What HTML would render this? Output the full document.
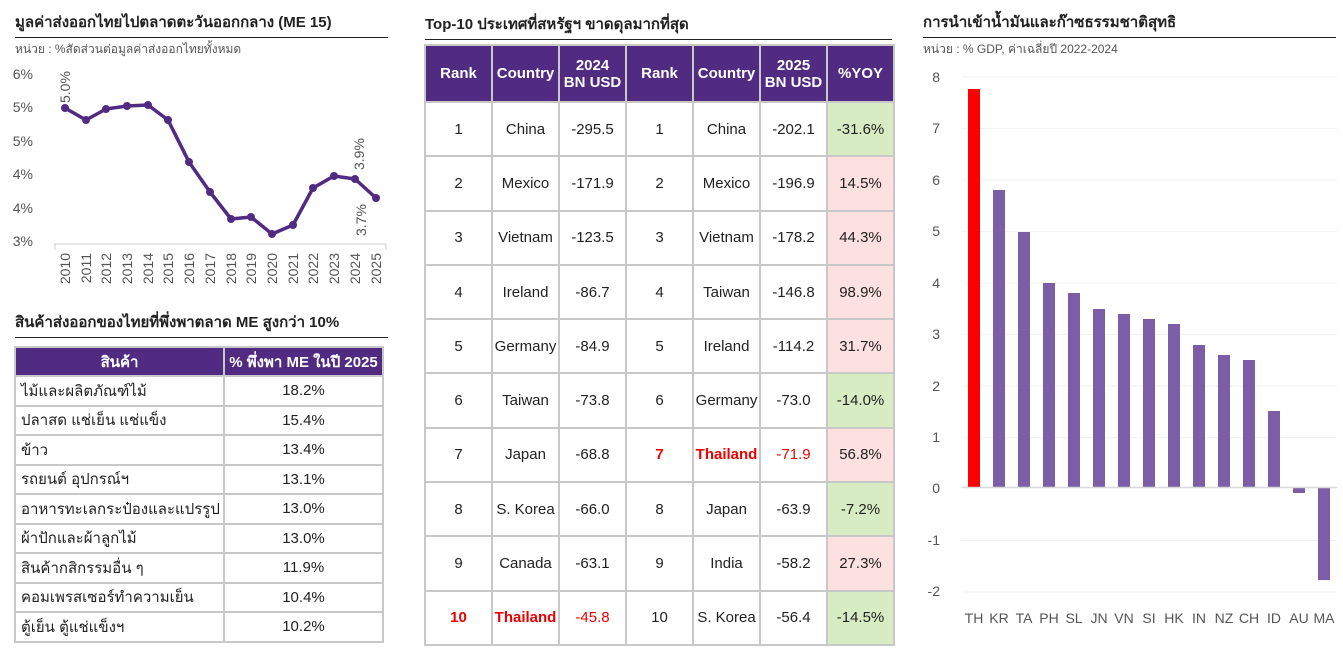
<!DOCTYPE html>
<html><head><meta charset="utf-8"><style>
body{margin:0;width:1343px;height:656px;background:#fff;position:relative;overflow:hidden;font-family:"Liberation Sans","Noto Sans CJK SC",sans-serif;color:#222}
.abs{position:absolute}
.ttl{font-size:15px;font-weight:bold;color:#222;border-bottom:1.5px solid #222;padding-bottom:3px}
.sub{font-size:12px;color:#555}
table{border-collapse:collapse;position:absolute;font-size:15px;table-layout:fixed}
td,th{border:2px solid #c8c8c8;text-align:center;padding:0;overflow:hidden;white-space:nowrap}
th{background:#512a82;color:#fff;font-weight:bold}
.g{background:#d8ecc4}.p{background:#fde0e0}.r{color:#e00;font-weight:bold}.rr{color:#e00}
</style></head><body>
<div class="abs ttl" style="left:15px;top:10px;width:373px">มูลค่าส่งออกไทยไปตลาดตะวันออกกลาง (ME 15)</div>
<div class="abs sub" style="left:15px;top:40px">หน่วย : %สัดส่วนต่อมูลค่าส่งออกไทยทั้งหมด</div>
<svg class="abs" style="left:0;top:60px" width="400" height="240">
<g font-size="14" fill="#555" text-anchor="end" font-family="Liberation Sans,sans-serif">
<text x="33" y="19">6%</text><text x="33" y="52">5%</text><text x="33" y="86">5%</text><text x="33" y="119">4%</text><text x="33" y="153">4%</text><text x="33" y="186">3%</text></g>
<line x1="54" y1="184" x2="386" y2="184" stroke="#ccc"/>
<g stroke="#ccc"><line x1="55" y1="184" x2="55" y2="190"/><line x1="386" y1="184" x2="386" y2="190"/></g>
<polyline fill="none" stroke="#512a82" stroke-width="3.5" stroke-linejoin="round" points="65,48 86,60 106,49 127,46 148,45 168,60 189,102 210,132 231,159 251,157 272,174 293,165 313,128 334,116 355,119 376,138"/>
<g fill="#512a82"><circle cx="65" cy="48" r="4"/><circle cx="86" cy="60" r="4"/><circle cx="106" cy="49" r="4"/><circle cx="127" cy="46" r="4"/><circle cx="148" cy="45" r="4"/><circle cx="168" cy="60" r="4"/><circle cx="189" cy="102" r="4"/><circle cx="210" cy="132" r="4"/><circle cx="231" cy="159" r="4"/><circle cx="251" cy="157" r="4"/><circle cx="272" cy="174" r="4"/><circle cx="293" cy="165" r="4"/><circle cx="313" cy="128" r="4"/><circle cx="334" cy="116" r="4"/><circle cx="355" cy="119" r="4"/><circle cx="376" cy="138" r="4"/></g>
<g font-size="14" fill="#555" font-family="Liberation Sans,sans-serif">
<text transform="translate(70,43) rotate(-90)">5.0%</text>
<text transform="translate(364,110) rotate(-90)">3.9%</text>
<text transform="translate(366,176) rotate(-90)">3.7%</text>
<g text-anchor="end">
<text transform="translate(70,193) rotate(-90)">2010</text><text transform="translate(91,193) rotate(-90)">2011</text><text transform="translate(111,193) rotate(-90)">2012</text><text transform="translate(132,193) rotate(-90)">2013</text><text transform="translate(153,193) rotate(-90)">2014</text><text transform="translate(173,193) rotate(-90)">2015</text><text transform="translate(194,193) rotate(-90)">2016</text><text transform="translate(215,193) rotate(-90)">2017</text><text transform="translate(236,193) rotate(-90)">2018</text><text transform="translate(256,193) rotate(-90)">2019</text><text transform="translate(277,193) rotate(-90)">2020</text><text transform="translate(298,193) rotate(-90)">2021</text><text transform="translate(318,193) rotate(-90)">2022</text><text transform="translate(339,193) rotate(-90)">2023</text><text transform="translate(360,193) rotate(-90)">2024</text><text transform="translate(381,193) rotate(-90)">2025</text></g></g>
</svg>
<div class="abs ttl" style="left:15px;top:310px;width:373px">สินค้าส่งออกของไทยที่พึ่งพาตลาด ME สูงกว่า 10%</div>
<table style="left:14px;top:346px;width:370px">
<tr style="height:29px"><th style="width:207px">สินค้า</th><th>% พึ่งพา ME ในปี 2025</th></tr>
<tr style="height:29.5px"><td style="text-align:left;padding-left:5px">ไม้และผลิตภัณฑ์ไม้</td><td>18.2%</td></tr>
<tr style="height:29.5px"><td style="text-align:left;padding-left:5px">ปลาสด แช่เย็น แช่แข็ง</td><td>15.4%</td></tr>
<tr style="height:29.5px"><td style="text-align:left;padding-left:5px">ข้าว</td><td>13.4%</td></tr>
<tr style="height:29.5px"><td style="text-align:left;padding-left:5px">รถยนต์ อุปกรณ์ฯ</td><td>13.1%</td></tr>
<tr style="height:29.5px"><td style="text-align:left;padding-left:5px">อาหารทะเลกระป๋องและแปรรูป</td><td>13.0%</td></tr>
<tr style="height:29.5px"><td style="text-align:left;padding-left:5px">ผ้าปักและผ้าลูกไม้</td><td>13.0%</td></tr>
<tr style="height:29.5px"><td style="text-align:left;padding-left:5px">สินค้ากสิกรรมอื่น ๆ</td><td>11.9%</td></tr>
<tr style="height:29.5px"><td style="text-align:left;padding-left:5px">คอมเพรสเซอร์ทำความเย็น</td><td>10.4%</td></tr>
<tr style="height:29.5px"><td style="text-align:left;padding-left:5px">ตู้เย็น ตู้แช่แข็งฯ</td><td>10.2%</td></tr>
</table>
<div class="abs ttl" style="left:425px;top:12px;width:467px">Top-10 ประเทศที่สหรัฐฯ ขาดดุลมากที่สุด</div>
<table style="left:424px;top:44px;width:469px">
<colgroup><col style="width:67px"><col style="width:67px"><col style="width:67px"><col style="width:67px"><col style="width:67px"><col style="width:67px"><col style="width:67px"></colgroup>
<tr style="height:57px"><th>Rank</th><th>Country</th><th>2024<br>BN USD</th><th>Rank</th><th>Country</th><th>2025<br>BN USD</th><th>%YOY</th></tr>
<tr style="height:54.3px"><td>1</td><td>China</td><td>-295.5</td><td>1</td><td>China</td><td>-202.1</td><td class="g">-31.6%</td></tr>
<tr style="height:54.3px"><td>2</td><td>Mexico</td><td>-171.9</td><td>2</td><td>Mexico</td><td>-196.9</td><td class="p">14.5%</td></tr>
<tr style="height:54.3px"><td>3</td><td>Vietnam</td><td>-123.5</td><td>3</td><td>Vietnam</td><td>-178.2</td><td class="p">44.3%</td></tr>
<tr style="height:54.3px"><td>4</td><td>Ireland</td><td>-86.7</td><td>4</td><td>Taiwan</td><td>-146.8</td><td class="p">98.9%</td></tr>
<tr style="height:54.3px"><td>5</td><td>Germany</td><td>-84.9</td><td>5</td><td>Ireland</td><td>-114.2</td><td class="p">31.7%</td></tr>
<tr style="height:54.3px"><td>6</td><td>Taiwan</td><td>-73.8</td><td>6</td><td>Germany</td><td>-73.0</td><td class="g">-14.0%</td></tr>
<tr style="height:54.3px"><td>7</td><td>Japan</td><td>-68.8</td><td class="r">7</td><td class="r">Thailand</td><td class="rr">-71.9</td><td class="p">56.8%</td></tr>
<tr style="height:54.3px"><td>8</td><td>S. Korea</td><td>-66.0</td><td>8</td><td>Japan</td><td>-63.9</td><td class="g">-7.2%</td></tr>
<tr style="height:54.3px"><td>9</td><td>Canada</td><td>-63.1</td><td>9</td><td>India</td><td>-58.2</td><td class="p">27.3%</td></tr>
<tr style="height:54.3px"><td class="r">10</td><td class="r">Thailand</td><td class="rr">-45.8</td><td>10</td><td>S. Korea</td><td>-56.4</td><td class="g">-14.5%</td></tr>
</table>
<div class="abs ttl" style="left:923px;top:10px;width:413px">การนำเข้าน้ำมันและก๊าซธรรมชาติสุทธิ</div>
<div class="abs sub" style="left:923px;top:40px">หน่วย : % GDP, ค่าเฉลี่ยปี 2022-2024</div>
<svg class="abs" style="left:900px;top:0" width="443" height="656">
<g stroke="#f2f2f2" transform="translate(-900,0)"><line x1="962" y1="77" x2="1337" y2="77"/><line x1="962" y1="128.5" x2="1337" y2="128.5"/><line x1="962" y1="180" x2="1337" y2="180"/><line x1="962" y1="231.5" x2="1337" y2="231.5"/><line x1="962" y1="283" x2="1337" y2="283"/><line x1="962" y1="334.5" x2="1337" y2="334.5"/><line x1="962" y1="386" x2="1337" y2="386"/><line x1="962" y1="437.5" x2="1337" y2="437.5"/><line x1="962" y1="540.5" x2="1337" y2="540.5"/><line x1="962" y1="592" x2="1337" y2="592"/></g>
<g font-size="14" fill="#555" text-anchor="end" font-family="Liberation Sans,sans-serif">
<text x="40" y="82">8</text><text x="40" y="133">7</text><text x="40" y="185">6</text><text x="40" y="236">5</text><text x="40" y="288">4</text><text x="40" y="339">3</text><text x="40" y="391">2</text><text x="40" y="442">1</text><text x="40" y="493">0</text><text x="40" y="545">-1</text><text x="40" y="596">-2</text></g>
<g transform="translate(-900,0)">
<rect x="968" y="89" width="12" height="398" fill="#ff0000"/>
<g fill="#7b5ea7">
<rect x="993" y="190" width="12" height="297"/><rect x="1018" y="232" width="12" height="255"/><rect x="1043" y="283" width="12" height="204"/><rect x="1068" y="293" width="12" height="194"/><rect x="1093" y="309" width="12" height="178"/><rect x="1118" y="314" width="12" height="173"/><rect x="1143" y="319" width="12" height="168"/><rect x="1168" y="324" width="12" height="163"/><rect x="1193" y="345" width="12" height="142"/><rect x="1218" y="355" width="12" height="132"/><rect x="1243" y="360" width="12" height="127"/><rect x="1268" y="411" width="12" height="76"/><rect x="1293" y="488" width="12" height="5"/><rect x="1318" y="488" width="12" height="92"/></g>
<line x1="962" y1="487.5" x2="1337" y2="487.5" stroke="#d8d8d8" stroke-width="1.5"/>
<g font-size="14" fill="#555" text-anchor="middle" font-family="Liberation Sans,sans-serif">
<text x="974" y="623">TH</text><text x="999" y="623">KR</text><text x="1024" y="623">TA</text><text x="1049" y="623">PH</text><text x="1074" y="623">SL</text><text x="1099" y="623">JN</text><text x="1124" y="623">VN</text><text x="1149" y="623">SI</text><text x="1174" y="623">HK</text><text x="1199" y="623">IN</text><text x="1224" y="623">NZ</text><text x="1249" y="623">CH</text><text x="1274" y="623">ID</text><text x="1299" y="623">AU</text><text x="1324" y="623">MA</text></g></g>
</svg>
</body></html>
